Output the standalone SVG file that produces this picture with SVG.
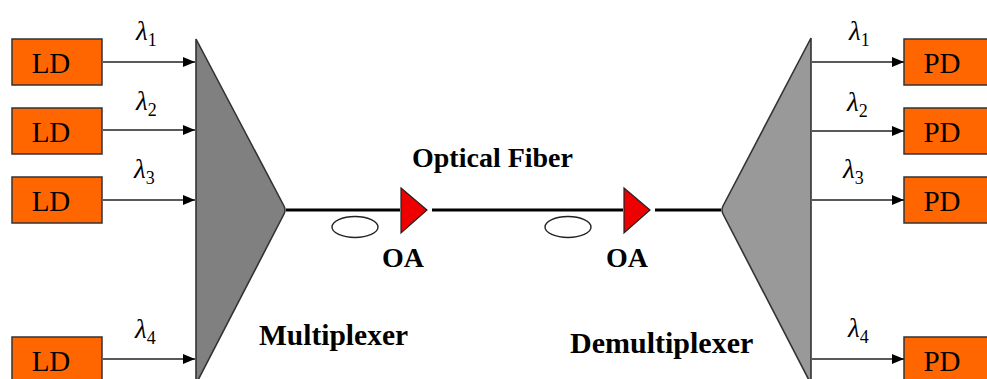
<svg xmlns="http://www.w3.org/2000/svg" width="987" height="379" viewBox="0 0 987 379">
  <style>
    .box { fill: #ff6600; stroke: #333333; stroke-width: 1.5; }
    .boxtxt { font-family: "Liberation Serif", "DejaVu Serif", serif; font-size: 29px; fill: #000; text-anchor: middle; }
    .lbl { font-family: "Liberation Serif", "DejaVu Serif", serif; font-size: 28px; font-weight: bold; fill: #000; }
    .lam { font-family: "Liberation Serif", "DejaVu Serif", serif; font-style: italic; font-size: 27px; fill: #000; }
    .sub { font-size: 18px; font-style: normal; }
    .arrow { stroke: #222222; stroke-width: 1.6; fill: none; marker-end: url(#head); }
    .fiber { stroke: #000; stroke-width: 3; fill: none; }
    .coil { fill: none; stroke: #222222; stroke-width: 1.4; }
    .amp { fill: #ee0000; stroke: #222222; stroke-width: 1.2; }
  </style>
  <defs>
    <marker id="head" markerWidth="12" markerHeight="10" refX="12" refY="5" orient="auto" markerUnits="userSpaceOnUse">
      <path d="M0,0 L12,5 L0,10 Z" fill="#000"/>
    </marker>
  </defs>

  <rect width="987" height="379" fill="#ffffff"/>

  <!-- laser diodes -->
  <g id="ld1"><rect class="box" x="12" y="39" width="90" height="46"/><text class="boxtxt" x="51" y="73">LD</text></g>
  <g id="ld2"><rect class="box" x="12" y="108" width="90" height="46"/><text class="boxtxt" x="51" y="142">LD</text></g>
  <g id="ld3"><rect class="box" x="12" y="177" width="90" height="46"/><text class="boxtxt" x="51" y="211">LD</text></g>
  <g id="ld4"><rect class="box" x="12" y="337" width="90" height="46"/><text class="boxtxt" x="51" y="371">LD</text></g>

  <!-- multiplexer -->
  <g id="mux">
    <path d="M196,39 L284,206 Q286,210 284,214 L196,384 Z" fill="#808080" stroke="#333333" stroke-width="1.6"/>
    <text class="lbl" x="259" y="345" style="font-size:29.5px">Multiplexer</text>
  </g>

  <!-- optical amplifiers -->
  <g id="oa1">
    <path class="amp" d="M401,188 L427,210 L401,233 Z"/>
    <text class="lbl" x="403" y="267" text-anchor="middle">OA</text>
  </g>
  <g id="oa2">
    <path class="amp" d="M624,188 L650,210 L624,233 Z"/>
    <text class="lbl" x="627" y="267" text-anchor="middle">OA</text>
  </g>

  <!-- fiber spools and label -->
  <g id="fiber">
    <ellipse class="coil" cx="355" cy="227" rx="23" ry="10.5"/>
    <ellipse class="coil" cx="568" cy="227" rx="23" ry="10.5"/>
    <text class="lbl" x="412" y="167">Optical Fiber</text>
  </g>

  <!-- demultiplexer -->
  <g id="demux">
    <path d="M811,38 L723,206 Q721,210 723,214 L811,384 Z" fill="#999999" stroke="#333333" stroke-width="1.6"/>
    <text class="lbl" x="570" y="353" style="font-size:30px">Demultiplexer</text>
  </g>

  <!-- photodiodes -->
  <g id="pd1"><rect class="box" x="904" y="39" width="90" height="46"/><text class="boxtxt" x="942" y="73">PD</text></g>
  <g id="pd2"><rect class="box" x="904" y="108" width="90" height="46"/><text class="boxtxt" x="942" y="142">PD</text></g>
  <g id="pd3"><rect class="box" x="904" y="177" width="90" height="46"/><text class="boxtxt" x="942" y="211">PD</text></g>
  <g id="pd4"><rect class="box" x="904" y="337" width="90" height="46"/><text class="boxtxt" x="942" y="371">PD</text></g>

  <!-- connectors -->
  <g id="connectors">
    <line class="arrow" x1="103" y1="62" x2="195" y2="62"/>
    <line class="arrow" x1="103" y1="130" x2="195" y2="130"/>
    <line class="arrow" x1="103" y1="200" x2="195" y2="200"/>
    <line class="arrow" x1="103" y1="359" x2="195" y2="359"/>
    <line class="fiber" x1="286" y1="210" x2="400" y2="210"/>
    <line class="fiber" x1="432" y1="210" x2="623" y2="210"/>
    <line class="fiber" x1="655" y1="210" x2="721" y2="210"/>
    <line class="arrow" x1="812" y1="62" x2="904" y2="62"/>
    <line class="arrow" x1="812" y1="131" x2="904" y2="131"/>
    <line class="arrow" x1="812" y1="200" x2="904" y2="200"/>
    <line class="arrow" x1="812" y1="359" x2="904" y2="359"/>
  </g>

  <!-- wavelength labels -->
  <g id="wavelengths">
    <text class="lam" x="136" y="40">λ<tspan class="sub" dy="6">1</tspan></text>
    <text class="lam" x="136" y="110">λ<tspan class="sub" dy="6">2</tspan></text>
    <text class="lam" x="134" y="178">λ<tspan class="sub" dy="6">3</tspan></text>
    <text class="lam" x="135" y="338">λ<tspan class="sub" dy="6">4</tspan></text>
    <text class="lam" x="849" y="40">λ<tspan class="sub" dy="6">1</tspan></text>
    <text class="lam" x="847" y="111">λ<tspan class="sub" dy="6">2</tspan></text>
    <text class="lam" x="843" y="178">λ<tspan class="sub" dy="6">3</tspan></text>
    <text class="lam" x="848" y="337">λ<tspan class="sub" dy="6">4</tspan></text>
  </g>
</svg>
